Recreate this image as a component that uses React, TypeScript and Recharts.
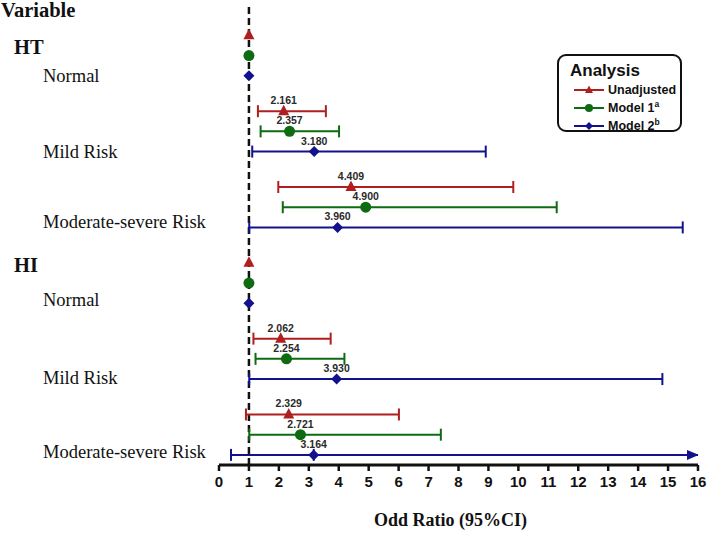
import React from 'react';
import { ScatterChart, Scatter, XAxis, YAxis, ErrorBar, ReferenceLine, Legend } from 'recharts';

// rows: HT Normal, HT Mild, HT Moderate-severe, HI Normal, HI Mild, HI Moderate-severe
const unadjustedOR = [1, 2.161, 4.409, 1, 2.062, 2.329];
const unadjustedLow = [null, 1.3, 1.98, null, 1.15, 0.9];
const unadjustedHigh = [null, 3.57, 9.83, null, 3.73, 6.01];

const model1OR = [1, 2.357, 4.9, 1, 2.254, 2.721];
const model1Low = [null, 1.39, 2.13, null, 1.22, 1.01];
const model1High = [null, 4.01, 11.28, null, 4.19, 7.41];

const model2OR = [1, 3.18, 3.96, 1, 3.93, 3.164];
const model2Low = [null, 1.11, 1.01, null, 1.01, 0.4];
const model2High = [null, 8.91, 15.49, null, 14.81, 17.0];

const xTicks = [0, 1, 2, 3, 4, 5, 6, 7, 8, 9, 10, 11, 12, 13, 14, 15, 16];

const rowLabels = ['Variable', 'HT', 'Normal', 'Mild Risk', 'Moderate-severe Risk', 'HI', 'Normal', 'Mild Risk', 'Moderate-severe Risk'];
const rowLabelKinds = ['title', 'group', 'level', 'level', 'level', 'group', 'level', 'level', 'level'];
const rowLabelPos = [-1.24, 0.59, 2.0, 5.75, 9.2, 11.34, 13.08, 16.9, 20.6];

const RED = '#B01F1F';
const GREEN = '#0E6B12';
const BLUE = '#12128F';
const X_MAX = 16;
const ROW_GAP = 3.75;

type Pt = { x: number; y: number; lo: number | null; err: number[] | null; over: number[] | null };

// CIs running past the axis end get a cap-less segment to the edge plus an arrow head
const buildSeries = (or: number[], low: (number | null)[], high: (number | null)[], offset: number): Pt[] =>
  or.map((v, i) => {
    const lo = low[i];
    const hi = high[i];
    const base = { x: v, y: i * ROW_GAP + offset, lo };
    if (lo == null || hi == null) return { ...base, err: null, over: null };
    if (hi > X_MAX) return { ...base, err: [v - lo, 0], over: [0, X_MAX - v] };
    return { ...base, err: [v - lo, hi - v], over: null };
  });

const unadjusted = buildSeries(unadjustedOR, unadjustedLow, unadjustedHigh, 0);
const model1 = buildSeries(model1OR, model1Low, model1High, 1);
const model2 = buildSeries(model2OR, model2Low, model2High, 2);
const arrows = model2.filter(p => p.over != null).map(p => ({ x: X_MAX, y: p.y }));

const valueLabel = (cx: number, cy: number, p: Pt) =>
  p.lo == null ? null : (
    <text x={cx} y={cy - 7} textAnchor="middle" fontFamily="Liberation Sans, Arial" fontWeight="bold" fontSize={10.5} fill="#2a2a2a">
      {p.x.toFixed(3)}
    </text>
  );

const TriangleShape = (props: any) => {
  const { cx, cy, payload } = props;
  return (
    <g>
      <path d={`M${cx},${cy - 6.5}L${cx + 5.5},${cy + 4}L${cx - 5.5},${cy + 4}Z`} fill={RED} />
      {valueLabel(cx, cy, payload)}
    </g>
  );
};

const CircleShape = (props: any) => {
  const { cx, cy, payload } = props;
  return (
    <g>
      <circle cx={cx} cy={cy} r={5.5} fill={GREEN} />
      {valueLabel(cx, cy, payload)}
    </g>
  );
};

const DiamondShape = (props: any) => {
  const { cx, cy, payload } = props;
  return (
    <g>
      <path d={`M${cx},${cy - 5.5}L${cx + 5.5},${cy}L${cx},${cy + 5.5}L${cx - 5.5},${cy}Z`} fill={BLUE} />
      {valueLabel(cx, cy, payload)}
    </g>
  );
};

const ArrowShape = (props: any) => {
  const { cx, cy } = props;
  return <path d={`M${cx + 1},${cy}L${cx - 11},${cy - 5}L${cx - 11},${cy + 5}Z`} fill={BLUE} />;
};

const RowTick = (props: any) => {
  const { y, index } = props;
  const kind = rowLabelKinds[index];
  const x = kind === 'title' ? 1 : kind === 'group' ? 14 : 43;
  const bold = kind !== 'level';
  return (
    <text
      x={x}
      y={y}
      dy="0.35em"
      textAnchor="start"
      fontFamily="Liberation Serif, Times New Roman"
      fontWeight={bold ? 'bold' : 'normal'}
      fontSize={bold ? 20.5 : 18.5}
      fill="#111"
    >
      {rowLabels[index]}
    </text>
  );
};

const legendItems = [
  { name: 'Unadjusted', sup: '', color: RED, marker: 'triangle' },
  { name: 'Model 1', sup: 'a', color: GREEN, marker: 'circle' },
  { name: 'Model 2', sup: 'b', color: BLUE, marker: 'diamond' },
];

const LegendBox = () => (
  <div
    style={{
      border: '2px solid #111',
      borderRadius: 9,
      width: 125,
      height: 78,
      boxSizing: 'border-box',
      padding: '5px 0 0 11px',
      background: '#fff',
      fontFamily: 'Liberation Sans, Arial',
      fontWeight: 'bold',
      color: '#111',
    }}
  >
    <div style={{ fontSize: 17, lineHeight: '20px' }}>Analysis</div>
    {legendItems.map(it => (
      <div key={it.name} style={{ display: 'flex', alignItems: 'center', height: 18 }}>
        <svg width={32} height={12} style={{ marginLeft: 3, marginRight: 3 }}>
          <line x1={1} y1={6} x2={31} y2={6} stroke={it.color} strokeWidth={2} />
          {it.marker === 'triangle' && <path d="M16,1.5L20,9L12,9Z" fill={it.color} />}
          {it.marker === 'circle' && <circle cx={16} cy={6} r={4} fill={it.color} />}
          {it.marker === 'diamond' && <path d="M16,2L20,6L16,10L12,6Z" fill={it.color} />}
        </svg>
        <span style={{ fontSize: 12.5 }}>
          {it.name}
          {it.sup && <sup style={{ fontSize: 8.5, lineHeight: 0 }}>{it.sup}</sup>}
        </span>
      </div>
    ))}
  </div>
);

const AxisTitle = (props: any) => {
  const { viewBox } = props;
  return (
    <text
      x={viewBox.x + viewBox.width / 2 - 8}
      y={viewBox.y + 61}
      textAnchor="middle"
      fontFamily="Liberation Serif, Times New Roman"
      fontWeight="bold"
      fontSize={18}
      fill="#111"
    >
      Odd Ratio (95%CI)
    </text>
  );
};

export default function App() {
  return (
    <div style={{ width: 708, height: 533, background: '#fff' }}>
      <style>{'body{margin:0;}'}</style>
      <ScatterChart width={708} height={533} margin={{ top: 5, right: 10, left: 0, bottom: 0 }}>
        <XAxis
          type="number"
          dataKey="x"
          domain={[0, X_MAX]}
          ticks={xTicks}
          allowDataOverflow
          interval={0}
          height={68}
          axisLine={{ stroke: '#111', strokeWidth: 3 }}
          tickLine={{ stroke: '#111', strokeWidth: 2.5 }}
          tickSize={6}
          tick={{ fill: '#111', fontSize: 15, fontWeight: 'bold', fontFamily: 'Liberation Sans, Arial', dy: 3 }}
          label={<AxisTitle />}
        />
        <YAxis
          type="number"
          dataKey="y"
          reversed
          domain={[-1.5, 21.25]}
          allowDataOverflow
          ticks={rowLabelPos}
          interval={0}
          width={219}
          axisLine={false}
          tickLine={false}
          tick={<RowTick />}
        />
        <ReferenceLine x={1} stroke="#111" strokeWidth={2.5} strokeDasharray="7 4" />
        <Scatter name="Unadjusted" data={unadjusted} shape={<TriangleShape />} isAnimationActive={false}>
          <ErrorBar dataKey="err" direction="x" width={6} stroke={RED} strokeWidth={2} />
        </Scatter>
        <Scatter name="Model 1" data={model1} shape={<CircleShape />} isAnimationActive={false}>
          <ErrorBar dataKey="err" direction="x" width={6} stroke={GREEN} strokeWidth={2} />
        </Scatter>
        <Scatter name="Model 2" data={model2} shape={<DiamondShape />} isAnimationActive={false}>
          <ErrorBar dataKey="err" direction="x" width={6} stroke={BLUE} strokeWidth={2} />
          <ErrorBar dataKey="over" direction="x" width={0} stroke={BLUE} strokeWidth={2} />
        </Scatter>
        <Scatter name="arrow" data={arrows} shape={<ArrowShape />} isAnimationActive={false} legendType="none" />
        <Legend
          layout="vertical"
          align="center"
          verticalAlign="middle"
          content={<LegendBox />}
          wrapperStyle={{ left: 557, top: 54, width: 125, height: 78 }}
        />
      </ScatterChart>
    </div>
  );
}
